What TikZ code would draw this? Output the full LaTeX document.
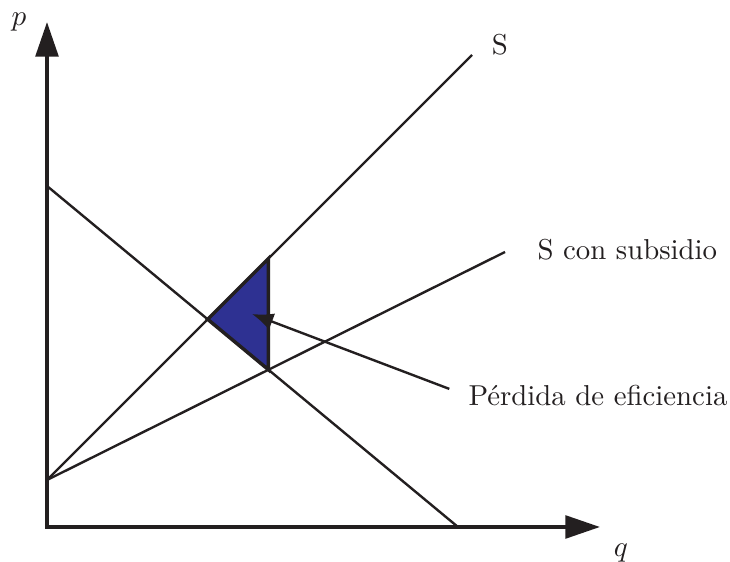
\documentclass[tikz,border=0pt]{standalone}
\usepackage{xcolor}
\usepackage{tikz}
\usetikzlibrary{arrows.meta,intersections}
\definecolor{SBlue}{HTML}{2E3192}
\definecolor{SInk}{HTML}{231F20}

\begin{document}
\begin{tikzpicture}[x=0.375pt,y=-0.375pt,
  every node/.style={font=\fontsize{10.8}{13}\selectfont},
  axis/.style={line width=1.4pt, draw=SInk, line join=miter,
    {Triangle[length=13pt,width=8.5pt]}-{Triangle[length=13pt,width=8.5pt]}},
  curve/.style={line width=0.9pt, draw=SInk},
  pointer/.style={line width=0.9pt, draw=SInk, -{Latex[length=8pt,width=6.5pt]}},
  lbl/.style={text=SInk, inner sep=0pt}]
\useasboundingbox (0,0) rectangle (730,562);
% axes
\coordinate (O) at (47,527);
\coordinate (ptop) at (47,22);
\coordinate (qend) at (600,527);
\draw[axis] (ptop) -- (O) -- (qend);
\node[lbl] (plab) at (19,22) {$p$};
\node[lbl] (qlab) at (621,553) {$q$};
% supply, subsidised supply, demand
\coordinate (s0) at (47,480);
\coordinate (s1) at (472,55);
\coordinate (ss1) at (505,252);
\coordinate (d0) at (47,186);
\coordinate (d1) at (458,527);
\draw[curve, name path=S] (s0) -- (s1);
\draw[curve, name path=SS] (s0) -- (ss1);
\draw[curve, name path=D] (d0) -- (d1);
% deadweight loss triangle
\path[name intersections={of=S and D, by=E}];
\path[name intersections={of=SS and D, by=B}];
\path[name path=vert] (B) -- ++(0,-300);
\path[name intersections={of=S and vert, by=T}];
\filldraw[fill=SBlue, draw=SInk, line width=1.3pt] (E) -- (T) -- (B) -- cycle;
% labels
\node[lbl] (slab) at (500,45) {S};
\node[lbl, anchor=west] (sslab) at (537,250) {S con subsidio};
\node[lbl, anchor=west] (perd) at (468,396) {Pérdida de eficiencia};
\coordinate (ptip) at (252,314);
\draw[pointer, shorten <=7.5pt] (perd.west) -- (ptip);
\end{tikzpicture}
\end{document}
